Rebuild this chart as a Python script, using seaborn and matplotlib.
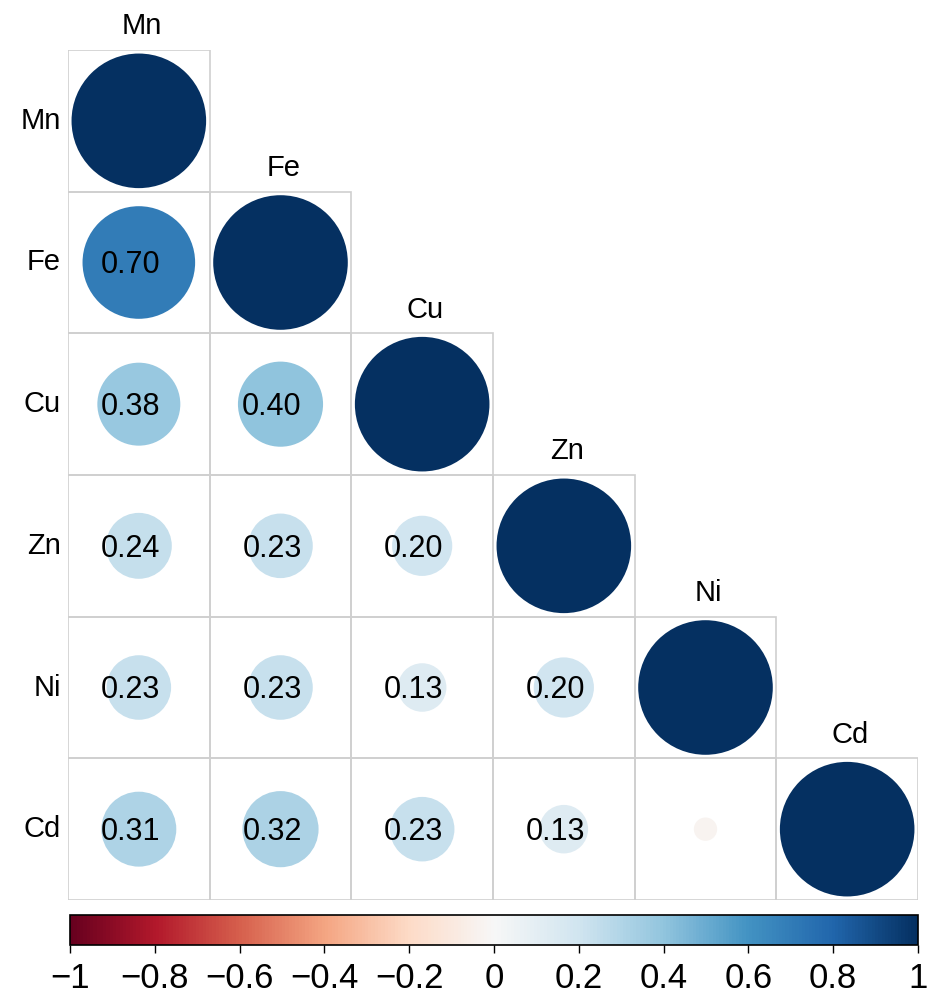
import numpy as np
import pandas as pd
import matplotlib.pyplot as plt
import matplotlib as mpl
from matplotlib.patches import Circle, Rectangle
import seaborn as sns

metals = ["Mn", "Fe", "Cu", "Zn", "Ni", "Cd"]
# lower triangle rows (row metal vs earlier metals), diagonal = 1
row_fe = [0.70]
row_cu = [0.38, 0.40]
row_zn = [0.24, 0.23, 0.20]
row_ni = [0.23, 0.23, 0.13, 0.20]
row_cd = [0.31, 0.32, 0.23, 0.13, -0.03]
colorbar_ticks = [-1, -0.8, -0.6, -0.4, -0.2, 0, 0.2, 0.4, 0.6, 0.8, 1]

n = len(metals)
corr = np.eye(n)
for i, row in enumerate([row_fe, row_cu, row_zn, row_ni, row_cd], start=1):
    for j, v in enumerate(row):
        corr[i, j] = v
        corr[j, i] = v
df = pd.DataFrame(corr, index=metals, columns=metals)

sns.set_theme(style="white")
plt.rcParams["font.family"] = ["Liberation Sans", "DejaVu Sans"]
plt.rcParams["text.color"] = "black"

fig = plt.figure(figsize=(9.28, 9.94), dpi=100)
ax = fig.add_axes([68 / 928, 1 - 900 / 994, 850 / 928, 850 / 994])

# white lower-triangle heatmap as the background, grid drawn as cell frames
mask = np.triu(np.ones((n, n), dtype=bool), k=1)
white = mpl.colors.ListedColormap(["white"])
sns.heatmap(df, mask=mask, cmap=white, cbar=False, square=False, ax=ax)
ax.set_xticks([])
ax.set_yticks([])
ax.set_xlabel("")
ax.set_ylabel("")

cmap = plt.get_cmap("RdBu")
norm = mpl.colors.Normalize(-1, 1)
rmax = 0.475
for i in range(n):
    for j in range(i + 1):
        ax.add_patch(Rectangle((j, i), 1, 1, facecolor="none",
                               edgecolor="#cfcfcf", lw=1.2, zorder=2))
        v = df.iloc[i, j]
        r = rmax * np.sqrt(abs(v))
        ax.add_patch(Circle((j + 0.5, i + 0.5), r, facecolor=cmap(norm(v)),
                            edgecolor="none", zorder=3))
        if i != j and abs(v) >= 0.05:
            ax.text(j + 0.44, i + 0.52, f"{v:.2f}", ha="center", va="center",
                    fontsize=22, color="black", zorder=4)

for i, m in enumerate(metals):
    ax.text(-0.05, i + 0.5, m, ha="right", va="center", fontsize=21)
    ax.text(i + 0.52, i - 0.11, m, ha="center", va="baseline", fontsize=21,
            clip_on=False)

ax.set_xlim(0, n)
ax.set_ylim(n, 0)
for s in ax.spines.values():
    s.set_visible(False)

cax = fig.add_axes([70 / 928, 1 - 945 / 994, 848 / 928, 30 / 994])
sm = mpl.cm.ScalarMappable(norm=norm, cmap=cmap)
cb = fig.colorbar(sm, cax=cax, orientation="horizontal", ticks=colorbar_ticks)
cb.ax.set_xticklabels([f"{t:g}".replace("-", "\u2212") for t in colorbar_ticks],
                      fontsize=25)
cb.ax.tick_params(direction="out", length=6, width=1, pad=6, colors="black")
cb.outline.set_edgecolor("black")
cb.outline.set_linewidth(1.2)

fig.savefig("out.png", dpi=100)
